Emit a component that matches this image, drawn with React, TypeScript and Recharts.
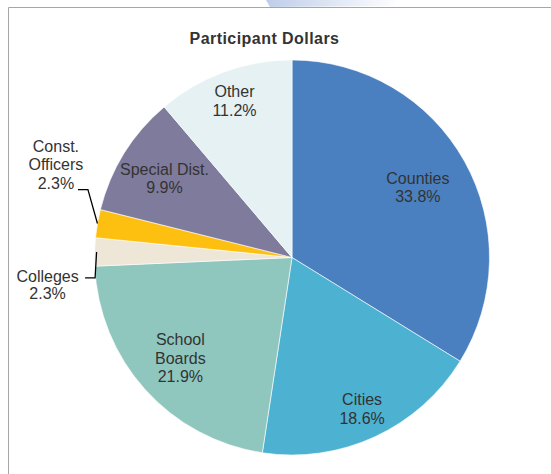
import React from 'react';
import { PieChart, Pie, Cell } from 'recharts';

const categories = ['Counties', 'Cities', 'School Boards', 'Colleges', 'Const. Officers', 'Special Dist.', 'Other'];
const shares = [33.8, 18.6, 21.9, 2.3, 2.3, 9.9, 11.2];
const chartTitle = 'Participant Dollars';

const COLORS = ['#4A80BF', '#4DB1D1', '#8FC7BF', '#EEE6D6', '#FDC010', '#7F7B9C', '#E5F1F2'];
const WRAPPED = new Set([2, 4]);
const INSIDE_R: Record<number, number> = { 0: 0.73, 1: 0.845, 2: 0.76, 5: 0.76, 6: 0.845 };

const data = categories.map((name, i) => ({ name, value: shares[i] }));

const RAD = Math.PI / 180;
const FS = 16;
const TEXT_COLOR = '#333333';

function renderLabel(props: any) {
  const { cx, cy, midAngle, outerRadius, index } = props;
  const name: string = props.payload?.name ?? props.name;
  const value: number = props.payload?.value ?? props.value;
  const nameLines = WRAPPED.has(index) ? name.split(' ') : [name];
  const lines = [...nameLines, `${value.toFixed(1)}%`];
  const pt = (r: number) => [cx + r * Math.cos(-midAngle * RAD), cy + r * Math.sin(-midAngle * RAD)];
  const base = 0.358 * FS;

  if (INSIDE_R[index] != null) {
    const [x, y] = pt(outerRadius * INSIDE_R[index]);
    const lh = 18.5;
    return (
      <text key={`lbl-${index}`} textAnchor="middle" fontSize={FS} fill={TEXT_COLOR} fontFamily="'Liberation Sans', Arial, sans-serif">
        {lines.map((l, i) => (
          <tspan key={i} x={x} y={y + (i - (lines.length - 1) / 2) * lh + base}>{l}</tspan>
        ))}
      </text>
    );
  }

  const [ex, ey] = pt(outerRadius);
  if (index === 4) {
    const ax = ex - 9.5, ay = ey - 34;
    const bx = ax - 10;
    const tx = ex - 41.5;
    const ys = [ey - 77.5, ey - 59, ey - 40.5];
    return (
      <g key={`lbl-${index}`}>
        <polyline points={`${ex},${ey} ${ax},${ay} ${bx},${ay}`} fill="none" stroke="#000" strokeWidth={1.3} />
        <text textAnchor="middle" fontSize={FS} fill={TEXT_COLOR} fontFamily="'Liberation Sans', Arial, sans-serif">
          {lines.map((l, i) => (
            <tspan key={i} x={tx} y={ys[i] + base}>{l}</tspan>
          ))}
        </text>
      </g>
    );
  }
  // index 3
  const ax = ex + 0.5, ay = ey + 26;
  const bx = ax - 10;
  const tx = ex - 47;
  const ys = [ey + 24, ey + 41.5];
  return (
    <g key={`lbl-${index}`}>
      <polyline points={`${ex + 2},${ey} ${ax},${ay} ${bx},${ay}`} fill="none" stroke="#000" strokeWidth={1.3} />
      <text textAnchor="middle" fontSize={FS} fill={TEXT_COLOR} fontFamily="'Liberation Sans', Arial, sans-serif">
        {lines.map((l, i) => (
          <tspan key={i} x={tx} y={ys[i] + base}>{l}</tspan>
        ))}
      </text>
    </g>
  );
}

export default function App() {
  return (
    <div style={{ position: 'absolute', left: 0, top: 0, width: 551, height: 474, background: '#fff', overflow: 'hidden' }}>
      <svg width={551} height={474} style={{ position: 'absolute', left: 0, top: 0 }}>
        <defs>
          <linearGradient id="topShade" x1="0" y1="0" x2="1" y2="0">
            <stop offset="0" stopColor="#BFCDEA" />
            <stop offset="1" stopColor="#FFFFFF" />
          </linearGradient>
        </defs>
        <polygon points="266,0 400,0 392,6 270,7" fill="url(#topShade)" />
        <line x1={8.5} y1={7.5} x2={551} y2={7.5} stroke="#A6A6A6" strokeWidth={1} />
        <line x1={8.5} y1={7.5} x2={8.5} y2={474} stroke="#A6A6A6" strokeWidth={1} />
        <text x={264.5} y={44} textAnchor="middle" fontSize={16} fontWeight="bold" letterSpacing={0.45} fill="#333333" fontFamily="'Liberation Sans', Arial, sans-serif">
          {chartTitle}
        </text>
      </svg>
      <div style={{ position: 'absolute', left: 0, top: 0 }}>
        <PieChart width={551} height={474} margin={{ top: 0, right: 0, bottom: 0, left: 0 }}>
          <Pie
            data={data}
            dataKey="value"
            nameKey="name"
            cx={292}
            cy={257.5}
            outerRadius={197.5}
            startAngle={90}
            endAngle={-270}
            stroke="#FFFFFF"
            strokeWidth={0.6}
            label={renderLabel}
            labelLine={false}
            isAnimationActive={false}
          >
            {data.map((d, i) => (
              <Cell key={d.name} fill={COLORS[i]} />
            ))}
          </Pie>
        </PieChart>
      </div>
    </div>
  );
}
